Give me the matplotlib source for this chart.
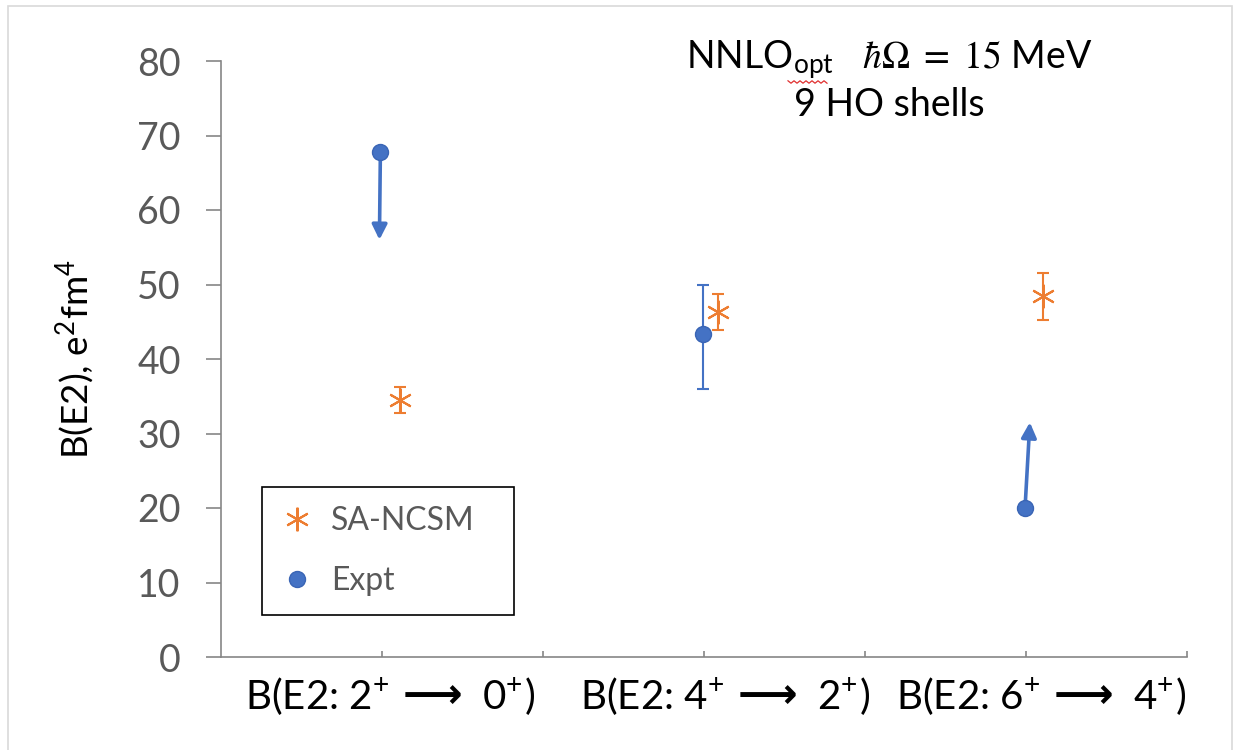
import numpy as np
import matplotlib
matplotlib.use("Agg")
import matplotlib.pyplot as plt
from matplotlib.lines import Line2D
from matplotlib.patches import Rectangle

plt.rcParams['font.family'] = ['Lato', 'DejaVu Sans']
plt.rcParams['mathtext.fontset'] = 'stix'

# ---- data ----
cat_left = [r"B(E2: 2$^{\mathregular{+}}$", r"B(E2: 4$^{\mathregular{+}}$", r"B(E2: 6$^{\mathregular{+}}$"]
cat_right = [r"0$^{\mathregular{+}}$)", r"2$^{\mathregular{+}}$)", r"4$^{\mathregular{+}}$)"]
cat_pos = [0.5, 1.5, 2.5]

expt_x = [0.495, 1.497, 2.497]
expt_y = [67.8, 43.3, 20.0]
expt_err_lo = [np.nan, 7.3, np.nan]
expt_err_hi = [np.nan, 6.7, np.nan]
expt_arrow_x = [0.492, np.nan, 2.512]
expt_arrow_y = [56.0, np.nan, 31.5]

sa_x = [0.555, 1.543, 2.553]
sa_y = [34.5, 46.3, 48.4]
sa_err = [1.8, 2.4, 3.1]

yticks = [0, 10, 20, 30, 40, 50, 60, 70, 80]

BLUE = '#4472C4'
ORANGE = '#ED7D31'
GRAY = '#595959'
SPINE = '#868686'

W, H = 1238, 750
fig = plt.figure(figsize=(W / 100, H / 100), dpi=100)
ax = fig.add_axes([221 / W, 1 - 657 / H, (1187 - 221) / W, (657 - 61) / H])

# figure border
fig.patches.append(Rectangle((8 / W, -0.01), (1232 - 8) / W, 1 - 6 / H + 0.01,
                             transform=fig.transFigure, fill=False,
                             edgecolor='#d9d9d9', lw=1.2))

star = (6, 2, 0)

# SA-NCSM
ax.errorbar(sa_x, sa_y, yerr=sa_err, fmt='none', ecolor=ORANGE, elinewidth=1.5,
            capsize=4.5, capthick=1.5, zorder=3)
ax.plot(sa_x, sa_y, linestyle='none', marker=star, markersize=17,
        markeredgewidth=1.5, color=ORANGE, zorder=4)

# Expt
ax.errorbar(expt_x, expt_y, yerr=[expt_err_lo, expt_err_hi], fmt='none',
            ecolor=BLUE, elinewidth=1.5, capsize=4.5, capthick=1.5, zorder=3)
for x0, y0, x1, y1 in zip(expt_x, expt_y, expt_arrow_x, expt_arrow_y):
    if np.isfinite(x1):
        ax.annotate('', xy=(x1, y1), xytext=(x0, y0),
                    arrowprops=dict(arrowstyle='-|>,head_length=0.9,head_width=0.45',
                                    color=BLUE, lw=2.6, shrinkA=0, shrinkB=0),
                    zorder=3)
ax.plot(expt_x, expt_y, linestyle='none', marker='o', markersize=11.5,
        color=BLUE, markeredgecolor='#3a65b5', markeredgewidth=1, zorder=5)

# axes styling
ax.set_xlim(0, 3)
ax.set_ylim(0, 80)
ax.set_yticks(yticks)
ax.set_yticklabels([str(v) for v in yticks], fontsize=27, color=GRAY)
ax.set_xticks(np.arange(0.5, 3.01, 0.5))
ax.set_xticklabels([])
ax.tick_params(axis='y', direction='out', length=11, width=1.2, color=SPINE, pad=18)
ax.tick_params(axis='x', direction='in', length=4, width=1.2, color=SPINE)
for s in ['top', 'right']:
    ax.spines[s].set_visible(False)
for s in ['left', 'bottom']:
    ax.spines[s].set_color(SPINE)
    ax.spines[s].set_linewidth(1.2)

ax.set_ylabel(r"B(E2), e$^{\mathregular{2}}$fm$^{\mathregular{4}}$", fontsize=26.5,
              color='black', labelpad=28)

# category labels: left part, heavy arrow, right part
arrow_x_px = [432, 767, 1083]
for axp, left, right in zip(arrow_x_px, cat_left, cat_right):
    xf = axp / W
    yf = 1 - 696 / H
    fig.text(xf, yf, "\u27f6", ha='center', va='center', fontsize=30,
             fontweight='bold', family=['DejaVu Sans'], color='black')
    fig.text(xf - 42 / W, yf, left, ha='right', va='center', fontsize=29,
             color='black')
    fig.text(xf + 50 / W, yf, right, ha='left', va='center', fontsize=29,
             color='black')

# title text
fig.text(889 / W, 1 - 60 / H,
         r"NNLO$_{\mathregular{opt}}$   $\hbar\Omega\ =\ 15$ MeV",
         ha='center', va='center', fontsize=27, color='black')
fig.text(889 / W, 1 - 105 / H, "9 HO shells", ha='center', va='center',
         fontsize=27, color='black')
# spell-check squiggle under "opt"
sq_x = np.linspace(788, 827, 14)
sq_y = 82 + np.where(np.arange(14) % 2 == 0, -1.2, 1.2)
fig.add_artist(Line2D(sq_x / W, 1 - sq_y / H, transform=fig.transFigure,
                      color='#e03030', lw=0.9))

# legend
handles = [Line2D([], [], linestyle='none', marker=star, markersize=17,
                  markeredgewidth=1.5, color=ORANGE),
           Line2D([], [], linestyle='none', marker='o', markersize=11.5,
                  color=BLUE, markeredgecolor='#3a65b5')]
leg = ax.legend(handles, ['SA-NCSM', 'Expt'], loc='lower left',
                bbox_to_anchor=(0.0424, 0.0705, 0.261, 0.2215), mode='expand',
                fontsize=23, labelcolor=GRAY, frameon=True, fancybox=False,
                edgecolor='black', framealpha=1, borderpad=0.6, labelspacing=0.92,
                handlelength=1.0, handletextpad=0.55, borderaxespad=0)
leg.get_frame().set_linewidth(1.2)

fig.savefig('out.png', dpi=100)
